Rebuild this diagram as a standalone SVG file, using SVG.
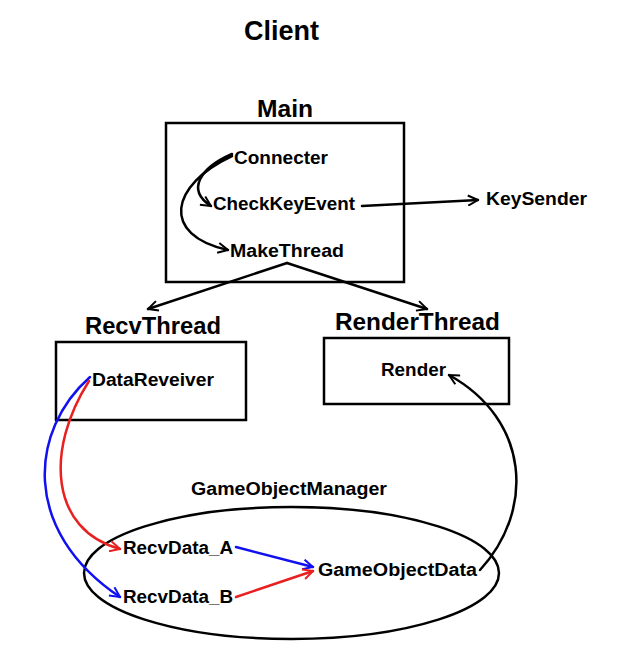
<svg xmlns="http://www.w3.org/2000/svg" width="625" height="661" viewBox="0 0 625 661">
<defs>
<style>
text{font-family:"Liberation Sans",Arial,sans-serif;font-weight:bold;fill:#000}
.t1{font-size:27px}
.t2{font-size:23px}
.t3{font-size:18px}
.box{fill:#fff;stroke:#000;stroke-width:2.5}
.c{fill:none;stroke-width:2.5;stroke-linecap:round}
.k{stroke:#000}
.r{stroke:#e82020}
.b{stroke:#1010f0}
</style>
<marker id="ak" viewBox="0 0 12 12" refX="11" refY="6" markerWidth="12" markerHeight="12" markerUnits="userSpaceOnUse" orient="auto"><path d="M1,1 L11,6 L1,11" fill="none" stroke="#000" stroke-width="2"/></marker>
<marker id="ar" viewBox="0 0 12 12" refX="11" refY="6" markerWidth="12" markerHeight="12" markerUnits="userSpaceOnUse" orient="auto"><path d="M1,1 L11,6 L1,11" fill="none" stroke="#e82020" stroke-width="2"/></marker>
<marker id="ab" viewBox="0 0 12 12" refX="11" refY="6" markerWidth="12" markerHeight="12" markerUnits="userSpaceOnUse" orient="auto"><path d="M1,1 L11,6 L1,11" fill="none" stroke="#1010f0" stroke-width="2"/></marker>
</defs>
<rect width="625" height="661" fill="#fff"/>
<text id="title" class="t1" x="244" y="40" textLength="75" lengthAdjust="spacingAndGlyphs">Client</text>

<g id="main">
<text class="t2" x="257" y="117" textLength="56" lengthAdjust="spacingAndGlyphs">Main</text>
<rect class="box" x="166" y="123" width="238" height="159"/>
</g>
<g id="recvThread">
<text class="t2" x="85" y="334" textLength="136" lengthAdjust="spacingAndGlyphs">RecvThread</text>
<rect class="box" x="56" y="342" width="190" height="78"/>
</g>
<g id="renderThread">
<text class="t2" x="335" y="330" textLength="165" lengthAdjust="spacingAndGlyphs">RenderThread</text>
<rect class="box" x="324" y="338" width="185" height="66"/>
</g>
<g id="gameObjectManager">
<text class="t3" x="191" y="495" textLength="196" lengthAdjust="spacingAndGlyphs">GameObjectManager</text>
<ellipse cx="291.5" cy="573" rx="207.5" ry="66" fill="none" stroke="#000" stroke-width="2.5"/>
</g>

<g id="connecter"><text class="t3" x="234" y="164" textLength="94" lengthAdjust="spacingAndGlyphs">Connecter</text></g>
<g id="checkKeyEvent"><text class="t3" x="213" y="210" textLength="142" lengthAdjust="spacingAndGlyphs">CheckKeyEvent</text></g>
<g id="makeThread"><text class="t3" x="230" y="257" textLength="114" lengthAdjust="spacingAndGlyphs">MakeThread</text></g>
<g id="keySender"><text class="t3" x="486" y="205" textLength="101" lengthAdjust="spacingAndGlyphs">KeySender</text></g>
<g id="dataReveiver"><text class="t3" x="92" y="386" textLength="122" lengthAdjust="spacingAndGlyphs">DataReveiver</text></g>
<g id="render"><text class="t3" x="381" y="376" textLength="65" lengthAdjust="spacingAndGlyphs">Render</text></g>
<g id="recvDataA"><text class="t3" x="123" y="554" textLength="110" lengthAdjust="spacingAndGlyphs">RecvData_A</text></g>
<g id="recvDataB"><text class="t3" x="123" y="603" textLength="110" lengthAdjust="spacingAndGlyphs">RecvData_B</text></g>
<g id="gameObjectData"><text class="t3" x="318" y="576" textLength="159" lengthAdjust="spacingAndGlyphs">GameObjectData</text></g>

<g id="connectors">
<path class="c k" d="M232,154 C200,168 186,190 211,206" marker-end="url(#ak)"/>
<path class="c k" d="M232,156 C170,185 160,235 228,250" marker-end="url(#ak)"/>
<path class="c k" d="M362,206 L478,200" marker-end="url(#ak)"/>
<path class="c k" d="M287,263 L148,309" marker-end="url(#ak)"/>
<path class="c k" d="M287,263 L427,309" marker-end="url(#ak)"/>
<path class="c b" d="M90,377 C30,430 20,530 120,597" marker-end="url(#ab)"/>
<path class="c r" d="M89,381 C45,450 50,530 120,549" marker-end="url(#ar)"/>
<path class="c b" d="M236,547 L313,567" marker-end="url(#ab)"/>
<path class="c r" d="M236,597 L313,571" marker-end="url(#ar)"/>
<path class="c k" d="M480,570 C535,510 530,420 449,375" marker-end="url(#ak)"/>
</g>
</svg>
